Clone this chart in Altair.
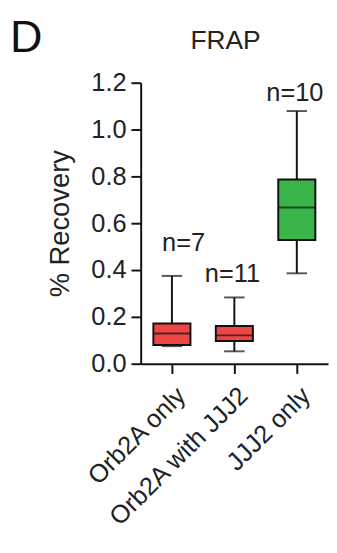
import altair as alt
import pandas as pd

groups = ["Orb2A only", "Orb2A with JJJ2", "JJJ2 only"]
wmin = [0.075, 0.053, 0.386]
q1 = [0.080, 0.097, 0.528]
median = [0.129, 0.121, 0.667]
q3 = [0.172, 0.161, 0.787]
wmax = [0.375, 0.283, 1.079]
n_text = ["n=7", "n=11", "n=10"]
n_y = [0.48, 0.35, 1.12]
colors = ["#EE4646", "#EE4646", "#3AB54A"]

df = pd.DataFrame({
    "group": groups, "wmin": wmin, "q1": q1, "median": median,
    "q3": q3, "wmax": wmax, "n": n_text, "ny": n_y, "color": colors,
})

FONT = "Liberation Sans"

x = alt.X("group:N", sort=groups,
          scale=alt.Scale(type="point", padding=0.5),
          axis=alt.Axis(title=None, labelAngle=-45, labelFontSize=26,
                        labelFont=FONT, labelColor="#222", tickSize=10,
                        tickWidth=2, domainWidth=2, domainColor="#111",
                        tickColor="#111", labelPadding=9, labelLimit=500,
                        labelOverlap=False, grid=False))
yscale = alt.Scale(domain=[0, 1.2], nice=False)
yaxis = alt.Axis(title="% Recovery", values=[0, 0.2, 0.4, 0.6, 0.8, 1.0, 1.2],
                 format=".1f", labelFontSize=26, labelFont=FONT,
                 labelColor="#222", titleFontSize=28, titleFont=FONT,
                 titleFontWeight="normal", titleColor="#222",
                 tickSize=10, tickWidth=2, domainWidth=2, domainColor="#111",
                 tickColor="#111", labelPadding=5, titlePadding=17, grid=False)

base = alt.Chart(df)

whisk = base.mark_rule(color="#111", strokeWidth=2).encode(
    x=x, y=alt.Y("wmin:Q", scale=yscale, axis=yaxis), y2="wmax:Q")
box = base.mark_bar(size=38, stroke="#111", strokeWidth=2).encode(
    x=x, y=alt.Y("q1:Q", scale=yscale), y2="q3:Q",
    color=alt.Color("color:N", scale=None))
med = base.mark_tick(size=38, thickness=2, color="#111").encode(
    x=x, y=alt.Y("median:Q", scale=yscale))
capt = base.mark_tick(size=21, thickness=2, color="#111").encode(
    x=x, y=alt.Y("wmax:Q", scale=yscale))
capb = base.mark_tick(size=21, thickness=2, color="#111").encode(
    x=x, y=alt.Y("wmin:Q", scale=yscale))
ntext_first = base.transform_filter(alt.datum.n == "n=7").mark_text(
    fontSize=26, font=FONT, color="#222", baseline="alphabetic", dx=12
).encode(x=x, y=alt.Y("ny:Q", scale=yscale), text="n:N")
ntext_rest = base.transform_filter(alt.datum.n != "n=7").mark_text(
    fontSize=26, font=FONT, color="#222", baseline="alphabetic", dx=-2
).encode(x=x, y=alt.Y("ny:Q", scale=yscale), text="n:N")

letter = alt.Chart(pd.DataFrame({"t": ["D"]})).mark_text(
    fontSize=46, font=FONT, color="#111", align="left", baseline="alphabetic"
).encode(x=alt.value(-134), y=alt.value(-31), text="t:N")
ttl = alt.Chart(pd.DataFrame({"t": ["FRAP"]})).mark_text(
    fontSize=27, font=FONT, color="#222", align="center", baseline="alphabetic"
).encode(x=alt.value(87), y=alt.value(-35), text="t:N")

chart = alt.layer(whisk, box, med, capt, capb, ntext_first, ntext_rest,
                  letter, ttl).properties(
    width=192, height=288,
    autosize=alt.AutoSizeParams(type="none"),
    padding={"left": 136, "top": 70, "right": 1, "bottom": 170},
).configure_view(stroke=None)

chart.save("out.html", embed_options={"renderer": "svg", "actions": False})
